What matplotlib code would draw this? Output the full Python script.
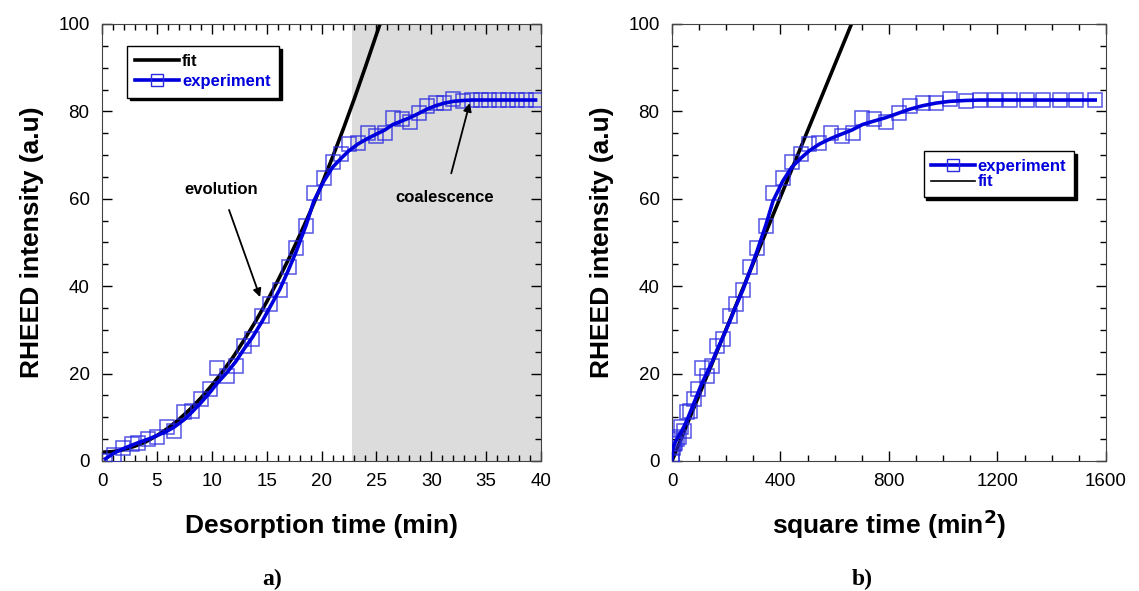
import matplotlib
matplotlib.use("Agg")
import matplotlib.pyplot as plt
import numpy as np
from matplotlib.lines import Line2D
from matplotlib.ticker import MultipleLocator

plt.rcParams["font.family"] = ["Liberation Sans", "DejaVu Sans"]

exp_time = [0.3, 1.1, 1.9, 2.7, 3.3, 4.2, 5.0, 5.9, 6.6, 7.5, 8.2, 9.0, 9.8,
            10.5, 11.4, 12.2, 12.9, 13.7, 14.6, 15.3, 16.2, 17.0, 17.7, 18.6,
            19.3, 20.2, 21.0, 21.8, 22.5, 23.3, 24.2, 25.0, 25.8, 26.5, 27.3,
            28.1, 28.9, 29.6, 30.4, 31.2, 32.0, 32.9, 33.7, 34.5, 35.3, 36.2,
            37.0, 37.8, 38.6, 39.5]
exp_marks = [0.0, 1.4, 2.9, 3.8, 4.2, 5.0, 5.6, 7.7, 6.9, 11.1, 11.5, 14.1, 16.4,
             21.2, 19.5, 21.8, 26.3, 27.9, 33.2, 35.9, 39.1, 44.5, 48.7, 53.8,
             61.4, 64.8, 68.5, 70.2, 72.5, 72.8, 75.1, 74.4, 75.0, 78.4, 78.2,
             77.6, 79.6, 81.2, 82.0, 82.0, 82.8, 82.4, 82.6, 82.6, 82.6, 82.6,
             82.6, 82.6, 82.6, 82.6]
# smoothed experiment line, same times
exp_line = [0.5, 1.8, 2.8, 3.6, 4.2, 5.0, 5.8, 6.8, 7.8, 9.5, 11.2, 13.3, 15.6,
            17.8, 20.3, 22.8, 25.5, 28.3, 32.0, 35.2, 39.3, 43.8, 48.0, 54.0,
            59.5, 64.0, 67.2, 69.3, 71.0, 72.5, 73.8, 74.8, 75.8, 77.0, 77.8,
            78.6, 79.6, 80.5, 81.3, 81.9, 82.3, 82.5, 82.6, 82.6, 82.6, 82.6,
            82.6, 82.6, 82.6, 82.6]

# fit curve in panel a)
fit_time = [0, 1, 2, 3, 4, 5, 6, 7, 8, 9, 10, 11, 12, 13, 14, 15, 16, 17, 18,
            19, 20, 21, 22, 23, 24, 25, 25.4]
fit_val = [2.0, 2.15, 2.6, 3.4, 4.4, 5.8, 7.5, 9.5, 11.8, 14.4, 17.3, 20.5,
           24.0, 27.9, 32.0, 36.4, 41.2, 46.2, 51.6, 57.2, 63.2, 69.5, 76.1,
           83.0, 90.2, 97.6, 100.5]
# fit line in panel b) (square time)
fit_sq = [0, 665]
fit_sq_val = [0.0, 100.5]

shade_start = 22.8
blue = "#0000dd"
mark_kw = dict(marker="s", markersize=9.5, markerfacecolor="none",
               markeredgecolor="#2a2ae0", markeredgewidth=1.1, linestyle="none", alpha=0.8)

fig = plt.figure(figsize=(11.39, 5.91), dpi=100)
ax1 = fig.add_axes([0.0896, 0.22, 0.3854, 0.7394])
ax2 = fig.add_axes([0.59, 0.22, 0.381, 0.7394])

sq_time = np.array(exp_time) ** 2

# panel a
ax1.axvspan(shade_start, 40, color="#dcdcdc", zorder=0, lw=0)
ax1.plot(fit_time, fit_val, color="black", lw=2.6, zorder=2)
ax1.plot(exp_time, exp_marks, zorder=3, **mark_kw)
ax1.plot(exp_time, exp_line, color=blue, lw=2.6, zorder=4)
ax1.set_xlim(0, 40)
ax1.xaxis.set_major_locator(MultipleLocator(5))
ax1.xaxis.set_minor_locator(MultipleLocator(1))
ax1.set_xlabel("Desorption time (min)", fontsize=19, fontweight="bold", labelpad=17)
ax1.annotate("evolution", xy=(14.4, 37.5), xytext=(10.9, 62.2), ha="center", va="center",
             fontsize=12, fontweight="bold",
             arrowprops=dict(arrowstyle="-|>", color="black", lw=1.3, shrinkA=8, shrinkB=0))
ax1.annotate("coalescence", xy=(33.5, 81.9), xytext=(31.25, 60.4), ha="center", va="center",
             fontsize=12, fontweight="bold",
             arrowprops=dict(arrowstyle="-|>", color="black", lw=1.3, shrinkA=10, shrinkB=0))

h_fit = Line2D([], [], color="black", lw=2.6)
h_exp = Line2D([], [], color=blue, lw=2.6, marker="s", markersize=9,
               markerfacecolor="none", markeredgecolor="#2a2ae0")
leg1 = ax1.legend([h_fit, h_exp], ["fit", "experiment"], loc="upper left",
                  bbox_to_anchor=(0.057, 0.95), borderaxespad=0, fancybox=False,
                  edgecolor="black", framealpha=1, shadow={"color": "black", "alpha": 1},
                  prop={"weight": "bold", "size": 12}, handlelength=2.6,
                  handletextpad=0.2, borderpad=0.5, labelspacing=0.3)
leg1.get_texts()[1].set_color(blue)

# panel b
ax2.plot(fit_sq, fit_sq_val, color="black", lw=2.6, zorder=2)
ax2.plot(sq_time, exp_marks, zorder=3, **mark_kw)
ax2.plot(sq_time, exp_line, color=blue, lw=2.6, zorder=4)
ax2.set_xlim(0, 1600)
ax2.xaxis.set_major_locator(MultipleLocator(400))
ax2.xaxis.set_minor_locator(MultipleLocator(100))
ax2.set_xlabel("square time (min$^\\mathbf{2}$)", fontsize=19, fontweight="bold", labelpad=12)

h_exp2 = Line2D([], [], color=blue, lw=2.6, marker="s", markersize=9,
                markerfacecolor="none", markeredgecolor="#2a2ae0")
h_fit2 = Line2D([], [], color="black", lw=1.2)
leg2 = ax2.legend([h_exp2, h_fit2], ["experiment", "fit"], loc="upper left",
                  bbox_to_anchor=(0.58, 0.709), borderaxespad=0, fancybox=False,
                  edgecolor="black", framealpha=1, shadow={"color": "black", "alpha": 1},
                  prop={"weight": "bold", "size": 12}, handlelength=2.6,
                  handletextpad=0.2, borderpad=0.45, labelspacing=0.05)
for t in leg2.get_texts():
    t.set_color(blue)

for ax in (ax1, ax2):
    ax.set_ylim(0, 100)
    ax.yaxis.set_major_locator(MultipleLocator(20))
    ax.yaxis.set_minor_locator(MultipleLocator(5))
    ax.tick_params(which="both", direction="in", top=True, right=True, labelsize=13.5, pad=9)
    ax.tick_params(which="major", length=7, width=1)
    ax.tick_params(which="minor", length=4, width=1)
    ax.set_ylabel("RHEED intensity (a.u)", fontsize=19, fontweight="bold", labelpad=10)
    for sp in ax.spines.values():
        sp.set_color("#444444")

fig.text(0.239, 0.002, "a)", fontsize=17, fontweight="bold", family="Liberation Serif",
         ha="center", va="bottom")
fig.text(0.757, 0.002, "b)", fontsize=17, fontweight="bold", family="Liberation Serif",
         ha="center", va="bottom")

fig.savefig("out.png", dpi=100)
